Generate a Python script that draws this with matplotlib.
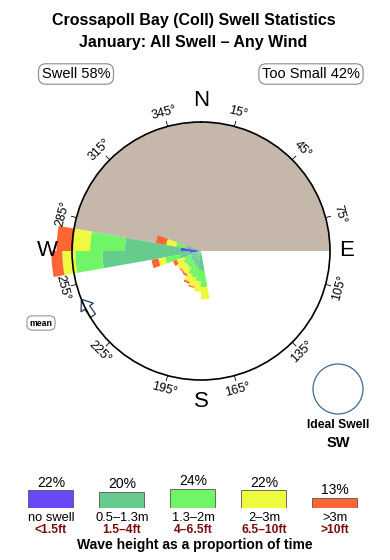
import numpy as np
import matplotlib
matplotlib.use("Agg")
import matplotlib.pyplot as plt
from matplotlib.patches import Circle, Polygon

plt.rcParams['font.family'] = ['Liberation Sans', 'DejaVu Sans']

# ---------------- data ----------------
title_lines = ["Crossapoll Bay (Coll) Swell Statistics", "January: All Swell \u2013 Any Wind"]
swell_pct = 58
too_small_pct = 42

directions = [175, 185, 195, 205, 215, 225, 235, 245, 255, 265, 275, 285]  # bin centres (deg)
no_swell = [0, 0, 0, 0, 0, 0, 0, 0, 0, 0.9, 1.6, 0]
h_05_13 = [1.55, 1.4, 1.25, 1.15, 0.95, 0.95, 0.95, 0.8, 1.7, 6.75, 4.3, 1.15]
h_13_2 = [1.25, 0.95, 0.85, 0.8, 0.6, 0.55, 0.6, 0.6, 1.1, 2.1, 2.7, 0.8]
h_2_3 = [0.95, 0.8, 0.7, 0.6, 0.55, 0.55, 0.6, 0.6, 0.55, 1.0, 1.3, 0.8]
h_gt3 = [0, 0, 0.1, 0.15, 0.15, 0.1, 0, 0.3, 0.55, 0.85, 1.3, 0.8]

shadow_from, shadow_to = 280, 90   # no-swell sector (deg)
mean_dir = 248

cat_pct = [22, 20, 24, 22, 13]
cat_m = ["no swell", "0.5\u20131.3m", "1.3\u20132m", "2\u20133m", ">3m"]
cat_ft = ["<1.5ft", "1.5\u20134ft", "4\u20136.5ft", "6.5\u201310ft", ">10ft"]
cat_colors = ["#6a48fa", "#66cc8e", "#70f566", "#eefa3e", "#ff6633"]

deg_labels = [15, 45, 75, 105, 135, 165, 195, 225, 255, 285, 315, 345]
compass = [("N", 0), ("E", 90), ("S", 180), ("W", 270)]

# ---------------- figure ----------------
W, H = 390, 560
fig = plt.figure(figsize=(W / 100, H / 100), dpi=100)

ov = fig.add_axes([0, 0, 1, 1])
ov.set_xlim(0, W)
ov.set_ylim(H, 0)
ov.axis('off')

# polar rose
cx, cy, rpx = 201, 251, 129
R = 10.0
ax = fig.add_axes([(cx - rpx) / W, (H - cy - rpx) / H, 2 * rpx / W, 2 * rpx / H], projection='polar')
ax.set_theta_zero_location('N')
ax.set_theta_direction(-1)
ax.set_ylim(0, R)
ax.set_xticks([])
ax.set_yticks([])
ax.grid(False)
ax.patch.set_alpha(0)
ax.spines['polar'].set_linewidth(1.2)
ax.spines['polar'].set_color('black')
ax.spines['polar'].set_zorder(5)

span = (shadow_to - shadow_from) % 360
mid = shadow_from + span / 2
ax.bar(np.deg2rad(mid), R, width=np.deg2rad(span), bottom=0, color="#c5b8ab", linewidth=0, zorder=1)

th = np.deg2rad(directions)
bw = np.deg2rad(10)
bottom = np.zeros(len(directions))
for vals, col in zip([no_swell, h_05_13, h_13_2, h_2_3, h_gt3], cat_colors):
    v = np.array(vals)
    ax.bar(th, v, width=bw, bottom=bottom, color=col, linewidth=0, zorder=2, clip_on=False)
    bottom += v

# ticks & degree labels
for a in deg_labels:
    t = np.deg2rad(a)
    ax.plot([t, t], [R, R * 1.04], color='black', lw=0.6, clip_on=False, zorder=5)
    if 90 < a < 270:
        rot = 180 - a
    else:
        rot = -a
    ax.text(t, R * 1.11, f"{a}\u00b0", rotation=rot, rotation_mode='anchor',
            ha='center', va='center', fontsize=9, clip_on=False)

for lab, a in compass:
    rr = {0: 1.165, 90: 1.13, 180: 1.165, 270: 1.19}[a]
    ax.text(np.deg2rad(a), R * rr, lab, ha='center', va='center', fontsize=16, clip_on=False)

# mean arrow (outline) near the rim
t = np.deg2rad(mean_dir)
tip = np.array([cx + rpx * np.sin(t), cy - rpx * np.cos(t)])
d = np.array([-0.58, -0.82])
n = np.array([-d[1], d[0]])
hl, hw, sw, sl = 10, 7.5, 3.0, 10
base = tip - d * hl
pts = [tip, base + n * hw, base + n * sw, base + n * sw - d * sl,
       base - n * sw - d * sl, base - n * sw, base - n * hw]
ov.add_patch(Polygon(pts, closed=True, facecolor='white', edgecolor='#1f3b5c', lw=0.9, zorder=6))

# titles
ov.text(194, 20, title_lines[0], ha='center', va='center', fontsize=11.5, fontweight='bold')
ov.text(193, 42, title_lines[1], ha='center', va='center', fontsize=11.5, fontweight='bold')

box = dict(boxstyle='round,pad=0.22,rounding_size=0.5', fc='white', ec='#888888', lw=0.8)
ov.text(76, 74, f"Swell {swell_pct}%", ha='center', va='center', fontsize=10.5, bbox=box)
ov.text(311, 74, f"Too Small {too_small_pct}%", ha='center', va='center', fontsize=10.5, bbox=box)
ov.text(41, 323, "mean", ha='center', va='center', fontsize=6.3, fontweight='bold',
        bbox=dict(boxstyle='round,pad=0.3,rounding_size=0.6', fc='white', ec='#888888', lw=0.7))

# ideal swell
ov.add_patch(Circle((338, 389), 25, fill=False, ec='#3f6a94', lw=0.9))
ov.text(338, 425, "Ideal Swell", ha='center', va='center', fontsize=8.7, fontweight='bold')
ov.text(338, 443, "SW", ha='center', va='center', fontsize=10.5, fontweight='bold')

# legend bars
lg = fig.add_axes([0, (H - 508) / H, 1, 30 * 0.8 / H])
x0, dx = 51, 71
lg.set_xlim(-x0 / dx, (W - x0) / dx)
lg.set_ylim(0, 30)
lg.axis('off')
xs = np.arange(len(cat_pct))
lg.bar(xs, cat_pct, width=45 / dx, color=cat_colors, edgecolor='#555555', linewidth=0.6)
for i, p in enumerate(cat_pct):
    lg.text(i, p + 1.0, f"{p}%", ha='center', va='bottom', fontsize=10, clip_on=False)
    lg.text(i, -13, cat_m[i], ha='center', va='center', fontsize=9.3, clip_on=False)
    lg.text(i, -28, cat_ft[i], ha='center', va='center', fontsize=8.7, color='#7a0c0c',
            fontweight='bold', clip_on=False)

ov.text(195, 545, "Wave height as a proportion of time", ha='center', va='center',
        fontsize=10, fontweight='bold')

fig.savefig("out.png", dpi=100)
